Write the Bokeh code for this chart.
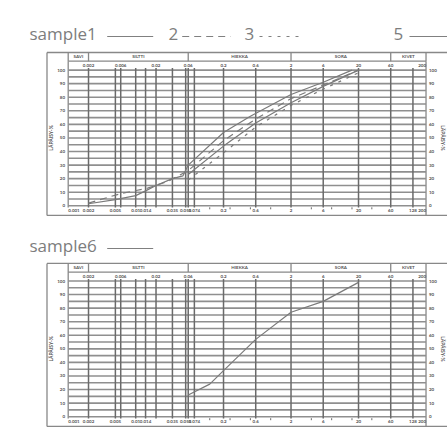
import numpy as np
from bokeh.plotting import figure
from bokeh.layouts import column
from bokeh.models import Range1d
from bokeh.core.properties import value
from bokeh.embed import file_html
from bokeh.resources import INLINE

# ---------------- data ----------------
series_names = ["sample1", "2", "3", "5"]
sizes_s1 = [0.002, 0.005, 0.01, 0.014, 0.02, 0.035, 0.05, 0.06, 0.2, 0.5, 2, 6, 16]
pass_s1 = [1.5, 4.5, 7.5, 11, 15, 20, 22, 30, 54, 66, 82, 91, 100]
sizes_s2 = [0.002, 0.006, 0.015, 0.03, 0.06, 0.2, 0.6, 2, 6, 20]
pass_s2 = [2, 9, 13, 18, 26, 48, 64, 79, 89, 100]
sizes_s3 = [0.06, 0.2, 0.6, 2, 6, 20]
pass_s3 = [19, 39, 58, 74, 86, 98]
sizes_s5 = [0.06, 0.2, 0.6, 2, 6, 20]
pass_s5 = [23, 44, 61, 76, 88, 100]
sizes_s6 = [0.06, 0.125, 0.2, 0.6, 2, 6, 20]
pass_s6 = [16, 24, 34, 57, 77, 85, 99]

top_ticks = [0.002, 0.006, 0.02, 0.06, 0.2, 0.6, 2, 6, 20, 60, 200]
top_labels = ["0.002", "0.006", "0.02", "0.06", "0.2", "0.6", "2", "6", "20", "60", "200"]
bottom_ticks = [0.001, 0.002, 0.005, 0.01, 0.014, 0.035, 0.055, 0.074, 0.2, 0.6, 2, 6, 20, 60, 128, 200]
bottom_labels = ["0.001", "0.002", "0.005", "0.01", "0.014", "0.035", "0.055", "0.074",
                 "0.2", "0.6", "2", "6", "20", "60", "128", "200"]
line_ticks = [0.002, 0.005, 0.006, 0.01, 0.014, 0.02, 0.035, 0.055, 0.06, 0.074,
              0.2, 0.6, 2, 6, 20, 60, 128]
minor_ticks = [0.125, 0.25, 0.5, 1, 4, 8, 16, 31.5]
y_ticks = [0, 10, 20, 30, 40, 50, 60, 70, 80, 90, 100]
y_labels = ["0", "10", "20", "30", "40", "50", "60", "70", "80", "90", "100"]
grid_y = list(range(0, 101, 5))
fraction_names = ["SAVI", "SILTTI", "HIEKKA", "SORA", "KIVET"]
fraction_bounds = [0.001, 0.002, 0.06, 2, 60, 200]
axis_title = "LÄPÄISY-%"

# ---------------- layout constants (picture pixels) ----------------
FIG_W = 447
LEFT = 0
X_MIN_PX = 67.7      # px of 0.001
DEC_PX = 67.5        # px per decade
PPU = 1.357          # px per percent
BOX_LEFT = 46.5
GRID_COL = "#8f8f8f"
VLINE_COL = "#6a6a6a"
TXT_COL = "#555555"
CURVE_COL = "#7a7a7a"
FONT = value("Lato")
TITLE_FONT = value("Open Sans")


def px2x(px):
    return 10 ** (-3 + (px - X_MIN_PX) / DEC_PX)


def make_panel(fig_top, fig_h, y0, legend, curves):
    def py2y(py):
        return (y0 - py) / PPU

    x_start = px2x(LEFT)
    x_end = px2x(LEFT + FIG_W)
    p = figure(width=FIG_W, height=fig_h, x_axis_type="log",
               x_range=Range1d(x_start, x_end),
               y_range=Range1d(py2y(fig_top + fig_h), py2y(fig_top)),
               output_backend="svg", toolbar_location=None,
               x_axis_location=None, y_axis_location=None, min_border=0)
    p.grid.visible = False
    p.outline_line_color = None
    p.background_fill_color = "white"
    p.border_fill_color = "white"

    box_top = py2y(y0 - 153.3)
    head_bot = py2y(y0 - 144.6)
    box_bot = py2y(y0 + 9.7)
    lab_bot = py2y(y0 + 1.8)
    xl, xr = px2x(BOX_LEFT), x_end

    # outer box
    p.segment(x0=[xl, xl, xl], y0=[box_top, box_bot, box_top],
              x1=[xr, xr, xl], y1=[box_top, box_bot, box_bot],
              line_color="#888888", line_width=1.3)
    # header row
    p.segment(x0=[fraction_bounds[0]], y0=[head_bot], x1=[fraction_bounds[-1]], y1=[head_bot],
              line_color="#888888", line_width=1.3)
    p.segment(x0=fraction_bounds, y0=[box_top] * len(fraction_bounds),
              x1=fraction_bounds, y1=[head_bot] * len(fraction_bounds),
              line_color="#888888", line_width=1.3)
    centers = [np.sqrt(a * b) for a, b in zip(fraction_bounds[:-1], fraction_bounds[1:])]
    p.text(x=centers, y=[(box_top + head_bot) / 2] * len(centers), text=fraction_names,
           text_font=FONT, text_font_size="4.5px", text_font_style="bold",
           text_color=TXT_COL, text_align="center", text_baseline="middle")
    # plot edges
    p.segment(x0=[fraction_bounds[0], fraction_bounds[-1]], y0=[head_bot, head_bot],
              x1=[fraction_bounds[0], fraction_bounds[-1]], y1=[lab_bot, box_bot],
              line_color="#888888", line_width=1.3)
    # horizontal grid
    p.segment(x0=[fraction_bounds[0]] * len(grid_y), y0=grid_y,
              x1=[fraction_bounds[-1]] * len(grid_y), y1=grid_y,
              line_color=GRID_COL, line_width=1.6)
    # vertical lines
    p.segment(x0=line_ticks, y0=[lab_bot] * len(line_ticks),
              x1=line_ticks, y1=[101.5] * len(line_ticks),
              line_color=VLINE_COL, line_width=1.5)
    # minor ticks at bottom
    p.segment(x0=minor_ticks, y0=[py2y(y0 + 3.5)] * len(minor_ticks),
              x1=minor_ticks, y1=[py2y(y0 + 1.5)] * len(minor_ticks),
              line_color=VLINE_COL, line_width=1)

    def aligns(n):
        return ["left"] + ["center"] * (n - 2) + ["right"]

    top_al = ["center"] * (len(top_ticks) - 1) + ["right"]
    p.text(x=top_ticks, y=[py2y(y0 - 140.5)] * len(top_ticks), text=top_labels,
           text_font=FONT, text_font_size="4.5px", text_font_style="bold",
           text_color=TXT_COL, text_align=top_al, text_baseline="middle")
    p.text(x=bottom_ticks, y=[py2y(y0 + 4.5)] * len(bottom_ticks), text=bottom_labels,
           text_font=FONT, text_font_size="4.5px", text_font_style="bold",
           text_color=TXT_COL, text_align=aligns(len(bottom_ticks)), text_baseline="middle")
    # y labels
    p.text(x=[px2x(64.5)] * len(y_ticks), y=y_ticks, text=y_labels,
           text_font=FONT, text_font_size="4.5px", text_font_style="bold",
           text_color=TXT_COL, text_align="right", text_baseline="middle")
    p.text(x=[px2x(428.5)] * len(y_ticks), y=y_ticks, text=y_labels,
           text_font=FONT, text_font_size="4.5px", text_font_style="bold",
           text_color=TXT_COL, text_align="left", text_baseline="middle")
    p.text(x=[px2x(50.5)], y=[50], text=[axis_title], angle=np.pi / 2,
           text_font=FONT, text_font_size="5px", text_font_style="bold",
           text_color=TXT_COL, text_align="center", text_baseline="middle")
    p.text(x=[px2x(442.5)], y=[50], text=[axis_title], angle=-np.pi / 2,
           text_font=FONT, text_font_size="5px", text_font_style="bold",
           text_color=TXT_COL, text_align="center", text_baseline="middle")

    # curves
    for xs, ys, dash in curves:
        p.line(xs, ys, line_color=CURVE_COL, line_width=1.2, line_dash=dash)

    # title / legend
    for label, lx, mx0, mx1, dash, base_py in legend:
        p.text(x=[px2x(lx)], y=[py2y(base_py)], text=[label], text_font=TITLE_FONT,
               text_font_size="17px", text_color="#7d7d7d",
               text_align="left", text_baseline="alphabetic")
        p.line([px2x(mx0), px2x(mx1)], [py2y(base_py + 3)] * 2,
               line_color="#808080", line_width=1.2, line_dash=dash)
    return p


legend1 = [
    (series_names[0], 29, 106.7, 152.7, "solid", 33),
    (series_names[1], 168, 181.7, 230, "7 5", 33),
    (series_names[2], 244, 259, 304, "3 6", 33),
    (series_names[3], 393, 409, 447, "solid", 33),
]
curves1 = [
    (sizes_s1, pass_s1, "solid"),
    (sizes_s2, pass_s2, "7 5"),
    (sizes_s3, pass_s3, "3 6"),
    (sizes_s5, pass_s5, "solid"),
]
p1 = make_panel(0, 216, 205.3, legend1, curves1)

legend2 = [("sample6", 29, 106.7, 152.7, "solid", 245)]
curves2 = [(sizes_s6, pass_s6, "solid")]
p2 = make_panel(216, 215, 416.2, legend2, curves2)

layout = column(p1, p2, spacing=0)
open("out.html", "w").write(file_html(layout, INLINE))
